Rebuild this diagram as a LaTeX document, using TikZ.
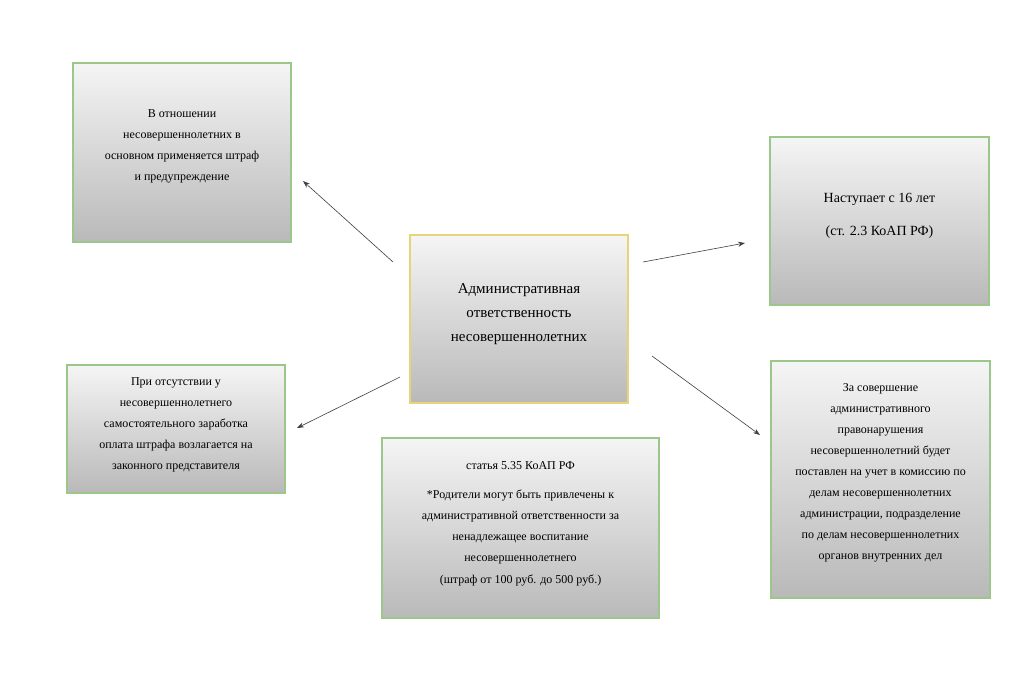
\documentclass[tikz,border=0pt]{standalone}
\usepackage{fontspec}
\setmainfont{Liberation Serif}
\usetikzlibrary{arrows.meta}
\definecolor{gb}{HTML}{9CC68A}
\definecolor{yb}{HTML}{E8D27A}
\tikzset{
 box/.style={draw=gb,line width=1.2pt,top color=gray!8,bottom color=gray!55,inner sep=0pt},
 cbox/.style={box,draw=yb},
 txt/.style={align=center,font=\fontsize{12}{21}\selectfont,inner sep=0pt},
 arr/.style={-{Stealth[length=7pt,width=5pt]},draw=black!75,line width=0.6pt}
}
\begin{document}
\begin{tikzpicture}[x=1pt,y=-1pt]
\useasboundingbox (0,0) rectangle (1024,681);
\fill[white] (0,0) rectangle (1024,681);
\node[box,minimum width=218pt,minimum height=179pt] (tl) at (182,152.5) {};
\node[txt] (tlt) at (182,146) {В отношении\\несовершеннолетних в\\основном применяется штраф\\и предупреждение};
\node[cbox,minimum width=218pt,minimum height=168pt] (c) at (519,319) {};
\node[txt,font=\fontsize{15}{24}\selectfont] (ct) at (519,314) {Административная\\ответственность\\несовершеннолетних};
\node[box,minimum width=219pt,minimum height=168pt] (tr) at (879.5,221) {};
\node[txt,font=\fontsize{14}{33}\selectfont] (trt) at (879.5,216) {Наступает с 16 лет\\(ст. 2.3 КоАП РФ)};
\node[box,minimum width=218pt,minimum height=128pt] (bl) at (176,429) {};
\node[txt] (blt) at (176,425) {При отсутствии у\\несовершеннолетнего\\самостоятельного заработка\\оплата штрафа возлагается на\\законного представителя};
\node[box,minimum width=277pt,minimum height=180pt] (bc) at (520.5,528) {};
\node[txt] (bc1) at (520.5,466) {статья 5.35 КоАП РФ};
\node[txt] (bc2) at (520.5,527) {*Родители могут быть привлечены к\\административной ответственности за\\ненадлежащее воспитание\\несовершеннолетнего};
\node[txt] (bc3) at (520.5,580) {(штраф от 100 руб. до 500 руб.)};
\node[box,minimum width=219pt,minimum height=237pt] (br) at (880.5,479.5) {};
\node[txt] (brt) at (880.5,473) {За совершение\\административного\\правонарушения\\несовершеннолетний будет\\поставлен на учет в комиссию по\\делам несовершеннолетних\\администрации, подразделение\\по делам несовершеннолетних\\органов внутренних дел};
\coordinate (a1) at (393,262); \coordinate (a2) at (643,262);
\coordinate (a3) at (652,356); \coordinate (a4) at (400,377);
\coordinate (e1) at (303,181); \coordinate (e2) at (745,243);
\coordinate (e3) at (760,435); \coordinate (e4) at (297,428);
\draw[arr] (a1) -- (e1);
\draw[arr] (a2) -- (e2);
\draw[arr] (a3) -- (e3);
\draw[arr] (a4) -- (e4);
\end{tikzpicture}
\end{document}
